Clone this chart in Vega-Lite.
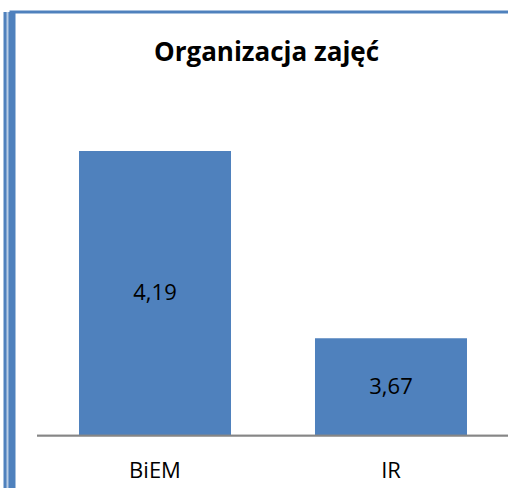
{
  "$schema": "https://vega.github.io/schema/vega-lite/v6.json",
  "autosize": {"type": "none"},
  "padding": {"left": 9, "top": 11.5, "right": 0, "bottom": 0},
  "width": 499,
  "height": 476.5,
  "background": "white",
  "title": {"text": "Organizacja zajęć", "fontSize": 26, "fontWeight": "bold", "font": "Open Sans", "color": "black", "anchor": "middle", "frame": "group", "dx": 8, "offset": -75, "baseline": "alphabetic"},
  "data": {"values": [
    {"kierunek": "BiEM", "ocena": 4.19},
    {"kierunek": "IR", "ocena": 3.67}
  ]},
  "resolve": {"axis": {"x": "independent", "y": "independent"}},
  "layer": [
    {
      "mark": {"type": "bar", "color": "#4f81bd"},
      "encoding": {
        "x": {"field": "kierunek", "type": "nominal", "sort": null,
          "scale": {"paddingInner": 0.3559, "paddingOuter": 0.2352, "align": 0.6306},
          "axis": {"orient": "bottom", "title": null, "domain": false, "ticks": false, "labelAngle": 0, "labelFont": "Open Sans", "labelFontSize": 22, "labelColor": "black", "labelPadding": 42, "labelBaseline": "alphabetic", "offset": -52.4, "grid": false}},
        "y": {"field": "ocena", "type": "quantitative",
          "scale": {"domain": [3.2544, 4.5773], "nice": false, "zero": false},
          "axis": {"orient": "left", "title": null, "labels": false, "ticks": false, "grid": false, "domainColor": "#4f81bd", "domainWidth": 12}},
        "y2": {"datum": 3.4}
      }
    },
    {
      "mark": {"type": "rule", "color": "#868686", "strokeWidth": 1.75},
      "encoding": {
        "x": {"datum": "BiEM", "bandPosition": -0.2763, "axis": null},
        "x2": {"datum": "IR", "bandPosition": 1.27},
        "y": {"datum": 3.4, "scale": {"domain": [3.2544, 4.5773], "nice": false, "zero": false}, "axis": null}
      }
    },
    {
      "transform": [{"calculate": "(datum.ocena + 3.4) / 2", "as": "srodek"}],
      "mark": {"type": "text", "font": "Open Sans", "fontSize": 22, "color": "black", "baseline": "middle"},
      "encoding": {
        "x": {"field": "kierunek", "type": "nominal", "sort": null,
          "axis": {"orient": "top", "title": null, "labels": false, "ticks": false, "grid": false, "domainColor": "#4f81bd", "domainWidth": 3}},
        "y": {"field": "srodek", "type": "quantitative",
          "scale": {"domain": [3.2544, 4.5773], "nice": false, "zero": false},
          "axis": {"orient": "left", "title": null, "labels": false, "ticks": false, "grid": false, "domainColor": "#b9cde5", "domainWidth": 2, "offset": 2, "zindex": 1}},
        "text": {"field": "ocena", "type": "quantitative", "format": ".2f"}
      }
    }
  ],
  "config": {
    "view": {"stroke": null},
    "font": "Open Sans",
    "locale": {"number": {"decimal": ",", "thousands": " ", "grouping": [3], "currency": ["", " zł"]}}
  }
}
